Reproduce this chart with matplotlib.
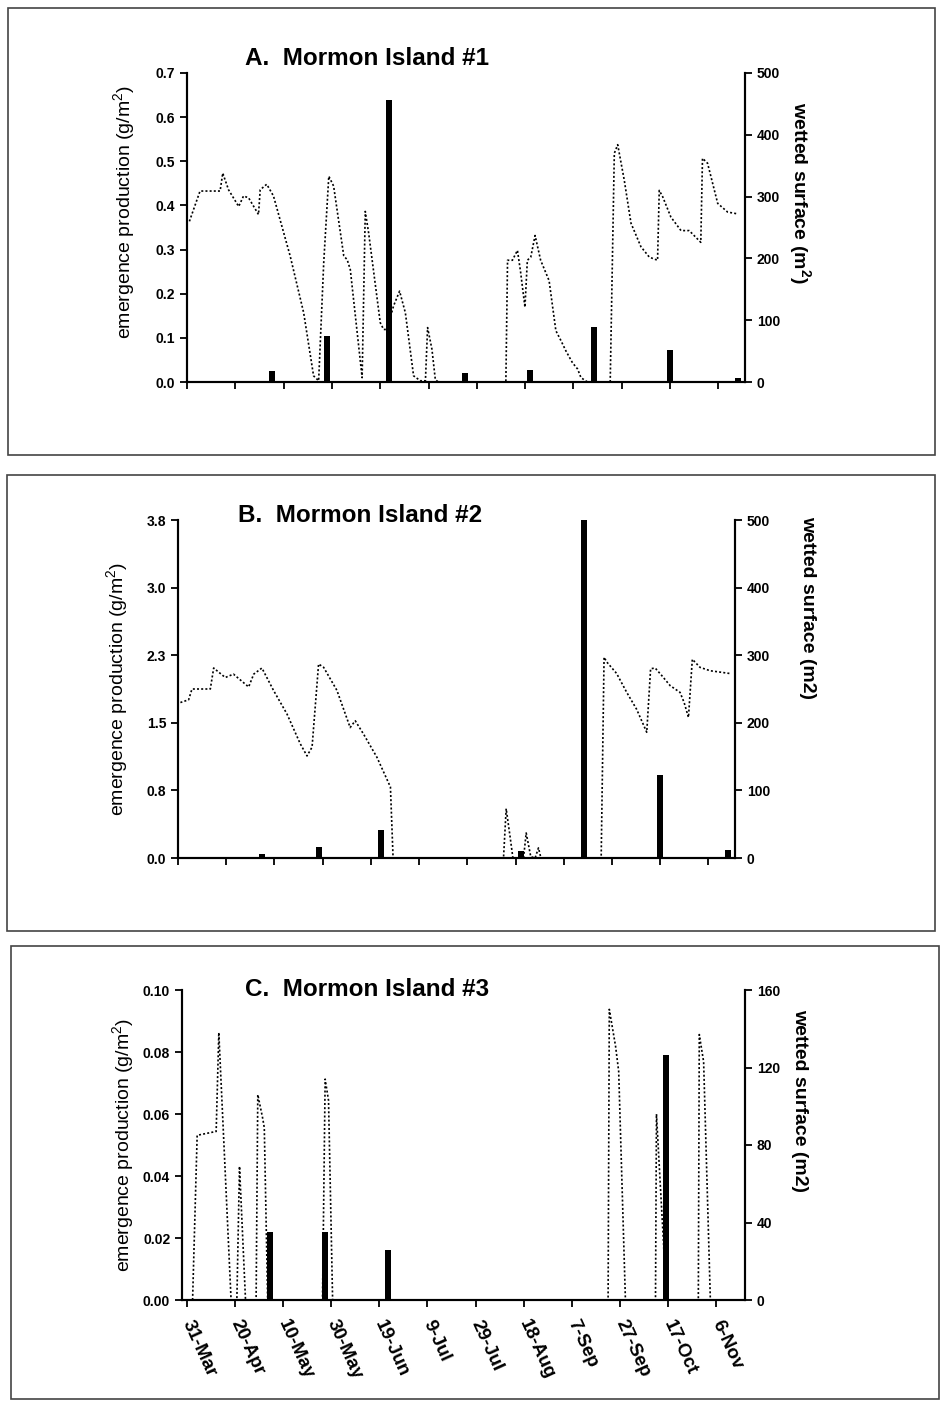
import matplotlib
matplotlib.use('Agg')
import matplotlib.pyplot as plt
from matplotlib.patches import Rectangle

plt.rcParams['font.family'] = ['Liberation Sans', 'DejaVu Sans']
plt.rcParams['mathtext.default'] = 'regular'

# x axis: days after 31-Mar
tick_days = [0, 20, 40, 60, 80, 100, 120, 140, 160, 180, 200, 220]
tick_labels = ['31-Mar', '20-Apr', '10-May', '30-May', '19-Jun', '9-Jul',
               '29-Jul', '18-Aug', '7-Sep', '27-Sep', '17-Oct', '6-Nov']

# A. Mormon Island #1
a_bar_days = [35, 58, 83.5, 115, 142, 168.5, 200, 228]
a_bar_prod = [0.025, 0.105, 0.638, 0.02, 0.028, 0.124, 0.073, 0.008]
a_wet_days = [1, 5.4, 13.7, 14.8, 17.2, 21.4, 23.4, 25.5, 29.6, 30.3, 33, 35.8,
              42.7, 48.3, 52.4, 54.5, 56.6, 58.7, 60.7, 64.9, 66.3, 67.6, 72.5,
              73.8, 75.2, 80, 81.4, 82.8, 85.5, 88, 90.4, 93.8, 96.6, 98.7, 99.6,
              101.4, 102.8, 104, 132, 132.7, 134.7, 136.8, 138.1, 139.9, 140.9,
              142.3, 144.1, 146.4, 149.9, 152.7, 154.8, 156.9, 159.6, 161.7,
              163.1, 165.8, 175.2, 176.9, 178.3, 181, 183.8, 187.9, 191.4, 194.8,
              195.5, 196.9, 200.3, 204.5, 207.9, 212.7, 213.4, 215.5, 219.7,
              223.8, 228]
a_wet_area = [260, 309, 309, 338, 311, 284, 301, 298, 271, 311, 320, 301,
              204, 112, 10, 2, 193, 333, 317, 204, 198, 182, 7,
              276, 241, 96, 85, 85, 123, 147, 112, 10, 2, 2, 88,
              53, 4, 0, 0, 197, 197, 213, 178, 121, 197,
              202, 237, 197, 164, 83, 67, 50, 31, 21,
              7, 0, 0, 370, 384, 327, 257, 219, 202, 197,
              310, 300, 267, 245, 245, 226, 362, 354, 289,
              275, 272]

# B. Mormon Island #2
b_bar_days = [35, 58.3, 84.2, 142.2, 168.2, 200, 228]
b_bar_prod = [0.04, 0.12, 0.31, 0.08, 3.8, 0.93, 0.085]
b_wet_days = [1, 4.4, 5.8, 13.4, 14.8, 19.6, 23, 29.3, 31.4, 34.8, 39.6, 45.2,
              50.7, 53.5, 55.6, 58.3, 60.4, 65.9, 71.4, 73.5, 77, 82.5, 88.1,
              89.2, 135, 136.1, 137.7, 138.9, 143.3, 144.4, 146.3, 148.1, 149.5,
              150.5, 175.5, 176.7, 177.8, 181.9, 186.1, 190.2, 194.4, 196,
              197.9, 200.6, 204.1, 208.2, 209.9, 211.7, 213.3, 216.5, 220.7,
              224.8, 228.7]
b_wet_area = [230, 234, 250, 250, 281, 267, 272, 253, 272, 281, 248, 213,
              169, 151, 164, 287, 282, 248, 193, 203, 183, 149, 105,
              0, 0, 73, 32, 0, 0, 37, 2, 0, 15,
              0, 0, 297, 290, 273, 245, 220, 186, 280,
              281, 270, 255, 245, 230, 208, 294, 282, 277,
              275, 273]

# C. Mormon Island #3
c_bar_days = [34.6, 57.5, 83.5, 199]
c_bar_prod = [0.022, 0.022, 0.016, 0.079]
c_wet_days = [2.4, 4.3, 12.2, 13.3, 18.4, 20.8, 21.9, 24.4, 28.8, 29.5, 31.5,
              32.2, 33.6, 56.4, 57.5, 58.9, 60.6, 175.1, 175.6, 178.2, 179.5,
              182.3, 194.8, 195.2, 196.9, 198.2, 198.9, 212.6, 213.0, 214.8,
              217.6, 230]
c_wet_area = [0, 85, 87, 138, 0, 0, 69, 0, 0, 106, 94,
              89, 0, 0, 114, 103, 0, 0, 150, 131, 118,
              0, 0, 96, 57, 28, 0, 0, 137, 123,
              0, 0]

fig = plt.figure(figsize=(9.4, 14.08), dpi=100)
W, H = 940.0, 1408.0


def px_rect(x0, y0, x1, y1):
    return [x0 / W, 1 - y1 / H, (x1 - x0) / W, (y1 - y0) / H]


panels = [
    dict(rect=px_rect(187, 73, 745, 382), frame=(8, 8, 935, 455),
         title='A.  Mormon Island #1', title_pos=(0.104, 1.048),
         bd=a_bar_days, bp=a_bar_prod, wd=a_wet_days, wa=a_wet_area,
         ylim=0.7, yticks=[0, 0.1, 0.2, 0.3, 0.4, 0.5, 0.6, 0.7], yfmt='%.1f',
         rlim=500, rticks=[0, 100, 200, 300, 400, 500],
         rlabel='wetted surface (m$^2$)', xlim=(0, 231),
         lpos=(-0.089, 0.55), rpos=(1.099, 0.613)),
    dict(rect=px_rect(178, 520, 735, 858), frame=(7, 475, 935, 931),
         title='B.  Mormon Island #2', title_pos=(0.108, 1.012),
         bd=b_bar_days, bp=b_bar_prod, wd=b_wet_days, wa=b_wet_area,
         ylim=3.8, yticks=[0, 0.76, 1.52, 2.28, 3.04, 3.8], yfmt='%.1f',
         rlim=500, rticks=[0, 100, 200, 300, 400, 500],
         rlabel='wetted surface (m2)', xlim=(0, 231),
         lpos=(-0.086, 0.5), rpos=(1.131, 0.74)),
    dict(rect=px_rect(182, 990, 745, 1300), frame=(11, 946, 939, 1399),
         title='C.  Mormon Island #3', title_pos=(0.112, 1.0),
         bd=c_bar_days, bp=c_bar_prod, wd=c_wet_days, wa=c_wet_area,
         ylim=0.1, yticks=[0, 0.02, 0.04, 0.06, 0.08, 0.1], yfmt='%.2f',
         rlim=160, rticks=[0, 40, 80, 120, 160],
         rlabel='wetted surface (m2)', xlim=(-2, 232),
         lpos=(-0.082, 0.5), rpos=(1.097, 0.645)),
]

for i, p in enumerate(panels):
    x0, y0, x1, y1 = p['frame']
    fig.patches.append(Rectangle((x0 / W, 1 - y1 / H), (x1 - x0) / W, (y1 - y0) / H,
                                 transform=fig.transFigure, fill=False,
                                 edgecolor='#444444', linewidth=1.2))

    ax = fig.add_axes(p['rect'])
    ax2 = ax.twinx()

    ax.bar(p['bd'], p['bp'], width=2.5, color='black', zorder=3)
    ax2.plot(p['wd'], p['wa'], color='black', linestyle=(0, (1.2, 1.3)),
             linewidth=1.2)

    ax.set_xlim(*p['xlim'])
    ax.set_ylim(0, p['ylim'])
    ax2.set_ylim(0, p['rlim'])
    ax.set_yticks(p['yticks'])
    ax.set_yticklabels([p['yfmt'] % v for v in p['yticks']])
    ax2.set_yticks(p['rticks'])
    ax.set_xticks(tick_days)

    for a in (ax, ax2):
        a.spines['top'].set_visible(False)
        for s in ('left', 'right', 'bottom'):
            a.spines[s].set_linewidth(1.5)
        a.tick_params(direction='out', length=5, width=1.3)
    ax.tick_params(axis='y', labelsize=10)
    ax2.tick_params(axis='y', labelsize=10)
    for lab in ax.get_yticklabels() + ax2.get_yticklabels():
        lab.set_fontweight('bold')

    if i < 2:
        ax.set_xticklabels([])
    else:
        ax.set_xticklabels(tick_labels, rotation=-65.5, ha='left', va='center',
                           rotation_mode='anchor', fontsize=13.5, fontweight='bold')
        ax.tick_params(axis='x', pad=10)

    ax.set_ylabel('emergence production (g/m$^2$)', fontsize=14)
    ax.yaxis.set_label_coords(*p['lpos'])
    ax2.set_ylabel(p['rlabel'], fontsize=14, fontweight='bold', rotation=270,
                   va='center')
    ax2.yaxis.set_label_coords(*p['rpos'])

    ax.text(p['title_pos'][0], p['title_pos'][1], p['title'], transform=ax.transAxes,
            fontsize=17.5, fontweight='bold', ha='left', va='center')

fig.savefig('out.png', dpi=100)
